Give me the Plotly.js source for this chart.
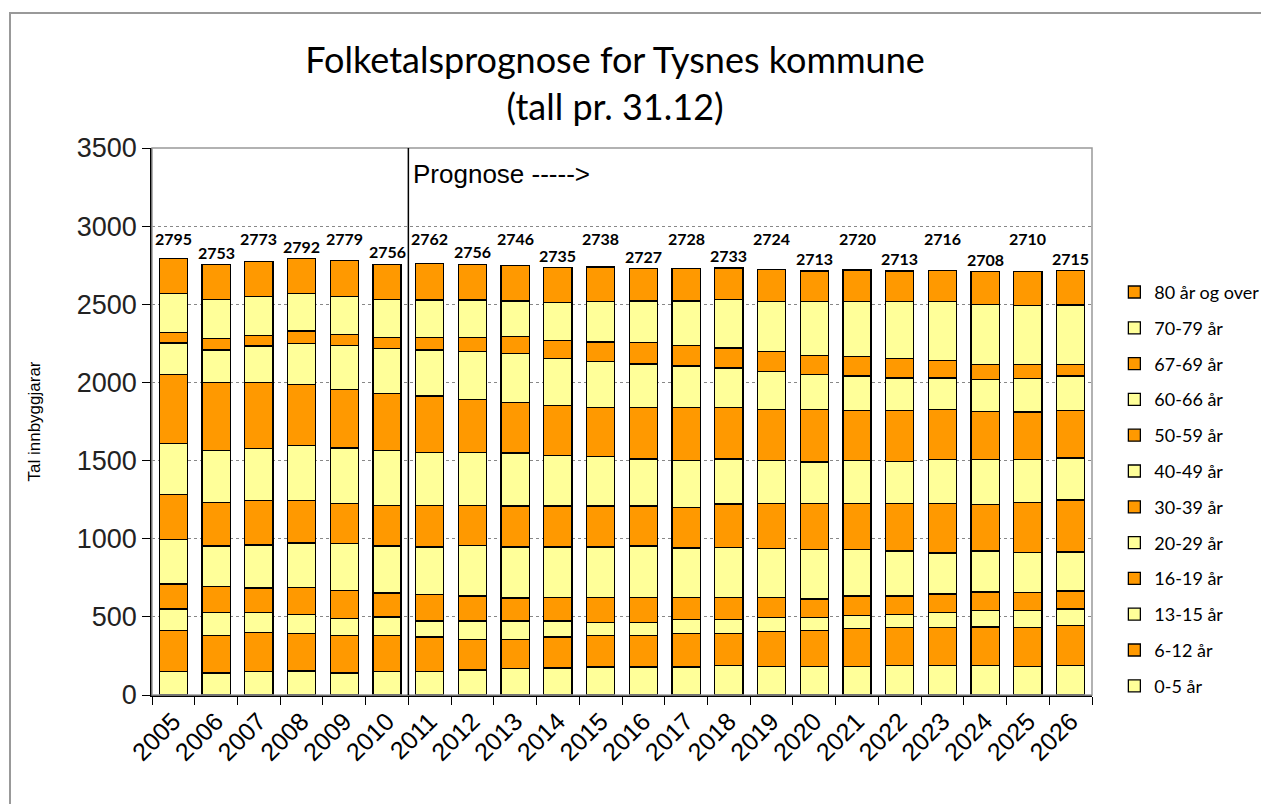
<!DOCTYPE html>
<html>
<head>
<meta charset="utf-8">
<script src="https://cdn.plot.ly/plotly-3.0.1.min.js"></script>
<style>
  html, body { margin: 0; padding: 0; background: #fff; overflow: hidden; width: 1264px; height: 807px; }
  #chart { width: 1264px; height: 807px; position: absolute; left: 0; top: 0; }
  #frame { position: absolute; left: 9px; top: 12px; width: 1250px; height: 790px;
           border-left: 2px solid #999; border-top: 2px solid #999; pointer-events: none; }
</style>
</head>
<body>
<div id="chart"></div>
<div id="frame"></div>
<script>
const years = ['2005','2006','2007','2008','2009','2010','2011','2012','2013','2014','2015',
               '2016','2017','2018','2019','2020','2021','2022','2023','2024','2025','2026'];

const ageGroups = ['0-5 år','6-12 år','13-15 år','16-19 år','20-29 år','30-39 år',
                   '40-49 år','50-59 år','60-66 år','67-69 år','70-79 år','80 år og over'];

const age0_5   = [150,141,150,154,141,150,150,160,169,173,180,180,180,188,184,184,184,188,188,188,184,188];
const age6_12  = [264,239,249,238,241,232,221,196,187,198,202,202,212,204,221,230,241,243,243,247,247,256];
const age13_15 = [136,146,131,125,107,118,103,118,118,103, 81, 81, 93, 93, 93, 84, 84, 86, 97,104,108,106];
const age16_19 = [160,168,155,172,179,153,170,159,146,151,162,162,140,140,127,116,124,116,118,120,118,116];
const age20_29 = [286,260,275,284,301,301,303,325,327,322,322,329,316,318,314,316,299,288,263,262,256,249];
const age30_39 = [286,279,286,273,258,260,265,256,263,263,263,256,260,280,288,297,295,306,318,299,318,333];
const age40_49 = [327,332,332,349,353,351,338,337,338,322,314,301,299,288,273,264,273,269,279,286,275,268];
const age50_59 = [440,435,422,390,377,362,364,338,324,319,316,329,340,329,329,338,321,325,323,310,304,304];
const age60_66 = [203,208,234,266,281,292,294,308,315,304,294,277,266,253,243,224,221,208,200,201,215,221];
const age67_69 = [ 68, 72, 68, 78, 70, 70, 81, 92,106,113,125,140,130,128,125,121,124,124,111, 98, 90, 72];
const age70_79 = [247,251,249,241,243,242,238,238,228,242,260,264,285,310,322,345,353,366,379,383,378,383];
const age80p   = [228,222,222,222,228,225,235,229,225,225,219,206,207,202,205,194,201,194,197,210,217,219];

const series = [age0_5, age6_12, age13_15, age16_19, age20_29, age30_39,
                age40_49, age50_59, age60_66, age67_69, age70_79, age80p];

const forecastStart = '2011';

const ORANGE = '#FF9900';
const YELLOW = '#FFFF99';

const traces = series.map((vals, i) => ({
  type: 'bar',
  name: ageGroups[i],
  x: years,
  y: vals,
  legendgroup: 'g' + i,
  legendrank: 100 - i,
  marker: { color: i % 2 === 0 ? YELLOW : ORANGE, line: { color: '#000', width: 1.3 } },
  hoverinfo: 'x+y+name'
}));

const totals = years.map((_, j) => series.reduce((s, arr) => s + arr[j], 0));

const labelFont = { family: 'Lato, Carlito, sans-serif', size: 16, color: '#000' };
const annotations = years.map((yr, j) => ({
  x: j,
  y: j % 2 === 0 ? 2846 : totals[j],
  yref: 'y',
  xref: 'x',
  text: '<b>' + totals[j] + '</b>',
  showarrow: false,
  yanchor: 'bottom',
  yshift: j % 2 === 0 ? 0 : 1,
  font: labelFont
}));

const nCat = years.length;
const splitPaper = years.indexOf(forecastStart) / nCat;

annotations.push({
  x: splitPaper, xref: 'paper', y: 3331, yref: 'y',
  text: 'Prognose ----->', showarrow: false, xanchor: 'left', xshift: 3,
  font: { family: 'Liberation Sans, Arial, sans-serif', size: 26, color: '#000' }
});

const layout = {
  width: 1264, height: 807,
  margin: { l: 152, r: 172, t: 148, b: 112, pad: 0, autoexpand: false },
  paper_bgcolor: '#fff', plot_bgcolor: '#fff',
  barmode: 'stack',
  bargap: 0.34,
  title: {
    text: 'Folketalsprognose for Tysnes kommune<br>(tall pr. 31.12)',
    font: { family: 'Lato, Carlito, sans-serif', size: 36, color: '#000' },
    x: 0.4866, xref: 'container', xanchor: 'center',
    y: 1 - 73 / 807, yref: 'container', yanchor: 'top'
  },
  xaxis: {
    type: 'category',
    range: [-0.5, nCat - 0.5],
    tickangle: -45,
    tickfont: { family: 'Liberation Sans, Arial, sans-serif', size: 25, color: '#000' },
    ticks: 'outside', ticklen: 8, tickcolor: '#000', tickson: 'boundaries',
    showline: true, linecolor: '#000', linewidth: 1.5,
    showgrid: false, zeroline: false, fixedrange: true
  },
  yaxis: {
    range: [0, 3500], dtick: 500,
    tickfont: { family: 'Liberation Sans, Arial, sans-serif', size: 27, color: '#222' },
    ticks: 'outside', ticklen: 8, tickcolor: '#000',
    showline: true, linecolor: '#000', linewidth: 1.5,
    showgrid: true, gridcolor: '#888', griddash: 'dot', gridwidth: 1,
    zeroline: false, fixedrange: true,
    title: { text: 'Tal innbyggjarar', standoff: 32,
             font: { family: 'Liberation Sans, Arial, sans-serif', size: 17, color: '#000' } }
  },
  legend: {
    traceorder: 'grouped',
    tracegroupgap: 9.4,
    x: 1.0238, xanchor: 'left', y: 0.77, yanchor: 'top',
    font: { family: 'Lato, Carlito, sans-serif', size: 18, color: '#000' },
    bgcolor: 'rgba(0,0,0,0)', borderwidth: 0,
    itemclick: false, itemdoubleclick: false
  },
  shapes: [
    { type: 'rect', xref: 'paper', yref: 'paper', x0: 0, x1: 1, y0: 0, y1: 1,
      line: { color: '#999', width: 1.5 }, layer: 'above' },
    { type: 'line', xref: 'paper', yref: 'paper', x0: splitPaper, x1: splitPaper, y0: 0, y1: 1,
      line: { color: '#000', width: 1.5 }, layer: 'above' }
  ],
  annotations: annotations,
  showlegend: true
};

Plotly.newPlot('chart', traces, layout, { displayModeBar: false });
</script>
</body>
</html>
